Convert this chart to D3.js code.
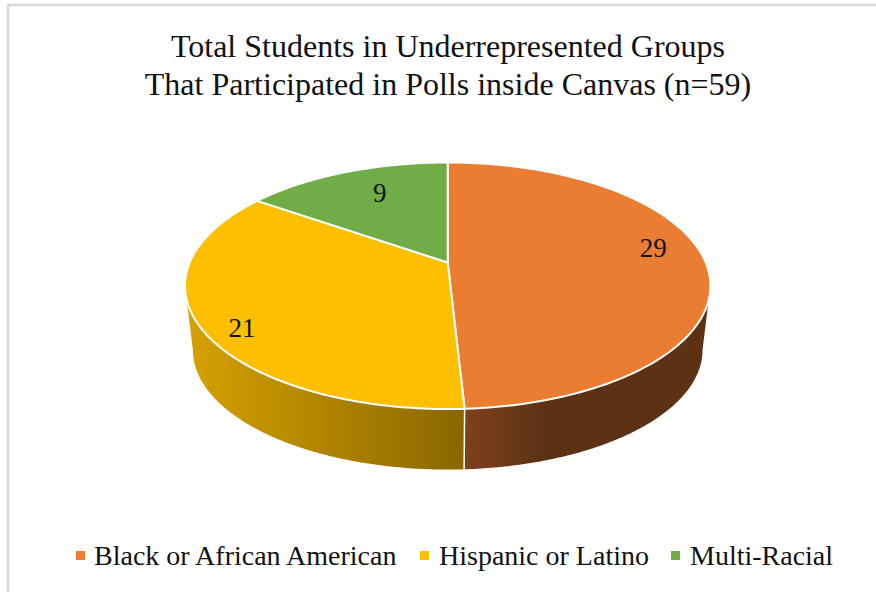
<!DOCTYPE html>
<html>
<head>
<meta charset="utf-8">
<script src="https://cdn.jsdelivr.net/npm/d3@7"></script>
<style>
  html, body { margin: 0; padding: 0; background: #fff; }
  svg { display: block; }
  text { font-family: "Liberation Serif", serif; fill: #111; }
</style>
</head>
<body>
<svg id="chart" width="876" height="592"></svg>
<script>
// Poll participation by group
const categories = ["Black or African American", "Hispanic or Latino", "Multi-Racial"];
const counts = [29, 21, 9];
const sliceColors = ["#EB7D32", "#FDBF00", "#70AD47"];
const titleLines = ["Total Students in Underrepresented Groups", "That Participated in Polls inside Canvas (n=59)"];

const svg = d3.select("#chart");
const width = 876, height = 592;

// Chart frame
svg.append("rect").attr("x", 8).attr("y", 5).attr("width", width + 10).attr("height", height + 10)
  .attr("fill", "#fff").attr("stroke", "#d9d9d9").attr("stroke-width", 2.5);

// Tilted disc: a circle seen in perspective, with the far rim foreshortened
const disc = { hubX: 447.7, hubY: 262.5, spanX: 258, spanY: 118.9, tilt: 0.1886 };
const base = { drop: 64.9, scale: 0.97 };

function project(angle, r = 1, level = 0) {
  const X = r * Math.sin(angle), Y = r * Math.cos(angle);
  const w = 1 + disc.tilt * Y;
  const s = level ? base.scale : 1;
  return [
    disc.hubX + s * disc.spanX * X / w,
    disc.hubY + (level ? base.drop : 0) - s * disc.spanY * Y / w
  ];
}

const pie = d3.pie().sort(null).startAngle(0).endAngle(2 * Math.PI);
const slices = pie(counts);
const arcSteps = (a, b) => d3.range(0, 121).map(i => a + (b - a) * i / 120);
const line = d3.line();

// Side wall shading runs left to right across each slice
const defs = svg.append("defs");
function shade(color, k) {
  const c = d3.rgb(color);
  return d3.rgb(c.r * k, c.g * k, c.b * k).formatHex();
}
const wallShades = [
  { x1: 465, x2: 545, stops: [[0, 0.53], [1, 0.39]] },
  { x1: 190, x2: 465, stops: [[0, 0.84], [1, 0.54]] }
];
wallShades.forEach((g, i) => {
  const grad = defs.append("linearGradient").attr("id", "wall" + i)
    .attr("gradientUnits", "userSpaceOnUse")
    .attr("x1", g.x1).attr("x2", g.x2).attr("y1", 0).attr("y2", 0);
  g.stops.forEach(s => grad.append("stop")
    .attr("offset", s[0]).attr("stop-color", shade(sliceColors[i], s[1])));
});

// Walls under the front rim, from the left and right tangents of the disc to the slice joint
const tangent = Math.acos(-disc.tilt);
const wallSpans = [
  [tangent, slices[0].endAngle],
  [slices[1].startAngle, 2 * Math.PI - tangent]
];
svg.append("g").selectAll("path").data(wallSpans).join("path")
  .attr("d", ([a, b]) => {
    const steps = arcSteps(a, b);
    return line(steps.map(t => project(t)).concat(steps.slice().reverse().map(t => project(t, 1, 1)))) + "Z";
  })
  .attr("fill", (d, i) => `url(#wall${i})`)
  .attr("stroke", "none");

// White joint down the wall between the two visible slices
const jointTop = project(slices[0].endAngle), jointBottom = project(slices[0].endAngle, 1, 1);
svg.append("line")
  .attr("x1", jointTop[0]).attr("y1", jointTop[1])
  .attr("x2", jointBottom[0]).attr("y2", jointBottom[1])
  .attr("stroke", "#fff").attr("stroke-width", 1.5);

// Top face of every slice
svg.append("g").selectAll("path").data(slices).join("path")
  .attr("d", d => line([project(0, 0)].concat(arcSteps(d.startAngle, d.endAngle).map(t => project(t)))) + "Z")
  .attr("fill", (d, i) => sliceColors[i])
  .attr("stroke", "#fff").attr("stroke-width", 2).attr("stroke-linejoin", "round");

// Value labels, nudged off their slice centres
const labelNudge = [[0, -12], [-11, 16], [16, 5]];
svg.append("g").selectAll("text").data(slices).join("text")
  .attr("x", (d, i) => project((d.startAngle + d.endAngle) / 2, 0.8)[0] + labelNudge[i][0])
  .attr("y", (d, i) => project((d.startAngle + d.endAngle) / 2, 0.8)[1] + labelNudge[i][1] + 9)
  .attr("text-anchor", "middle").attr("font-size", 27)
  .text(d => d.data);

// Title
svg.append("g").selectAll("text").data(titleLines).join("text")
  .attr("x", 448).attr("y", (d, i) => 56.5 + i * 38.5)
  .attr("text-anchor", "middle").attr("font-size", 32)
  .text(d => d);

// Legend
const legendSwatchX = [76, 420, 671];
const legendTextX = [94, 439, 690];
const legend = svg.append("g").selectAll("g").data(categories).join("g");
legend.append("rect")
  .attr("x", (d, i) => legendSwatchX[i]).attr("y", 551)
  .attr("width", 9).attr("height", 9)
  .attr("fill", (d, i) => sliceColors[i]);
legend.append("text")
  .attr("x", (d, i) => legendTextX[i]).attr("y", 565)
  .attr("font-size", 28)
  .text(d => d);
</script>
</body>
</html>
